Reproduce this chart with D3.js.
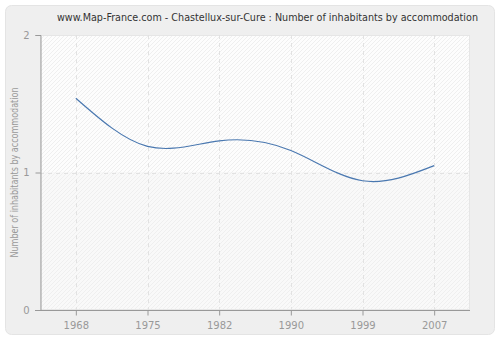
<!DOCTYPE html>
<html><head><meta charset="utf-8">
<script src="https://cdn.jsdelivr.net/npm/d3@7"></script>
<style>body{margin:0;background:#fff}svg{display:block}</style>
</head><body>
<script>
const years = ["1968","1975","1982","1990","1999","2007"];
const values = [1.54, 1.19, 1.23, 1.16, 0.94, 1.05];
const yTicks = [0, 1, 2];
const title = "www.Map-France.com - Chastellux-sur-Cure : Number of inhabitants by accommodation";
const yTitle = "Number of inhabitants by accommodation";

const W = 500, H = 340;
const m = {left: 40, right: 30, top: 35, bottom: 30};
const svg = d3.select("body").append("svg").attr("width", W).attr("height", H);
const defs = svg.append("defs");
const pat = defs.append("pattern").attr("id","hatch").attr("patternUnits","userSpaceOnUse")
  .attr("width",4).attr("height",4);
pat.append("path").attr("d","M-1,1 L1,-1 M0,4 L4,0 M3,5 L5,3").attr("stroke","#efefef").attr("stroke-width",1);

svg.append("rect").attr("x",5.5).attr("y",5.5).attr("width",489).attr("height",329)
  .attr("rx",6).attr("fill","#efefef").attr("stroke","#e4e4e4");

const x = d3.scalePoint().domain(years).range([m.left, W - m.right]).padding(0.5);
const y = d3.scaleLinear().domain([0, 2]).range([H - m.bottom, m.top]);

const pw = W - m.right - m.left, ph = y(0) - y(2);
svg.append("rect").attr("x",m.left).attr("y",y(2)).attr("width",pw).attr("height",y(1)-y(2)).attr("fill","#fdfdfd");
svg.append("rect").attr("x",m.left).attr("y",y(1)).attr("width",pw).attr("height",y(0)-y(1)).attr("fill","#f9f9f9");
svg.append("rect").attr("x",m.left).attr("y",y(2)).attr("width",pw).attr("height",ph).attr("fill","url(#hatch)");
svg.append("rect").attr("x",m.left+0.5).attr("y",y(2)+0.5).attr("width",pw-1).attr("height",ph-1)
  .attr("fill","none").attr("stroke","#e6e6e6");

// grid
svg.append("g").selectAll("line").data(years).join("line")
  .attr("x1",d=>Math.round(x(d))+0.5).attr("x2",d=>Math.round(x(d))+0.5)
  .attr("y1",y(2)).attr("y2",y(0))
  .attr("stroke","#e2e2e2").attr("stroke-dasharray","4,4");
svg.append("g").selectAll("line").data(yTicks.filter(v=>v>0&&v<2)).join("line")
  .attr("x1",m.left).attr("x2",W-m.right)
  .attr("y1",d=>Math.round(y(d))+0.5).attr("y2",d=>Math.round(y(d))+0.5)
  .attr("stroke","#e2e2e2").attr("stroke-dasharray","4,4");

const font = "DejaVu Sans, Verdana, sans-serif";
const condensed = "DejaVu Sans Condensed, DejaVu Sans, sans-serif";
// axes
const gx = svg.append("g").attr("transform",`translate(0,${y(0)+0.5})`)
  .call(d3.axisBottom(x).tickSize(5).tickPadding(6));
const gy = svg.append("g").attr("transform",`translate(${m.left+0.5},0)`)
  .call(d3.axisLeft(y).tickValues(yTicks).tickFormat(d3.format("d")).tickSize(5).tickPadding(6));
[gx, gy].forEach(g => {
  g.select(".domain").attr("stroke","#999");
  g.selectAll(".tick line").attr("stroke","#999");
  g.selectAll("text").attr("fill","#999").style("font-family",font).style("font-size","10px");
});
gx.select(".domain").attr("d",`M${m.left-5},0H${W-m.right}`);

// line
svg.append("path").datum(values)
  .attr("d", d3.line().x((d,i)=>x(years[i])).y(d=>y(d)).curve(d3.curveNatural))
  .attr("fill","none").attr("stroke","#4a78b0").attr("stroke-width",1.2);

svg.append("text").attr("x",267.5).attr("y",21).attr("text-anchor","middle")
  .attr("textLength",421).attr("lengthAdjust","spacingAndGlyphs")
  .attr("fill","#333").style("font-family",condensed).style("font-size","10px").text(title);
svg.append("text").attr("transform",`translate(18,${(y(0)+y(2))/2}) rotate(-90)`)
  .attr("text-anchor","middle").attr("textLength",170).attr("lengthAdjust","spacingAndGlyphs")
  .attr("fill","#999").style("font-family",condensed).style("font-size","10px").text(yTitle);
</script>
</body></html>
